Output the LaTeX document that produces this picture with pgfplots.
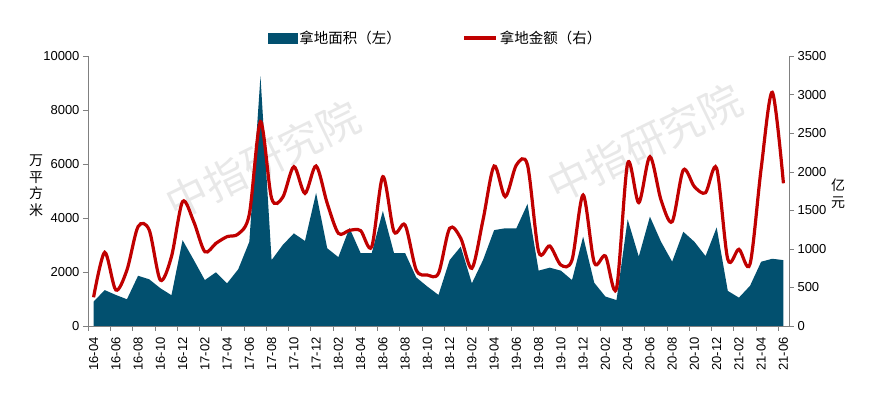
\documentclass[border=0pt]{standalone}
\usepackage{pgfplots}
\pgfplotsset{compat=1.18}
\usepackage{pgfplotstable}
\usepackage{fontspec}
\setmainfont{Liberation Sans}
\newfontfamily\cjk{Noto Sans CJK SC}
\definecolor{areablue}{HTML}{02506F}
\definecolor{linered}{HTML}{C00000}
\definecolor{axgray}{HTML}{808080}
\definecolor{wm}{HTML}{E8E8E8}

\pgfplotstableread{
i v
0 900
1 1330
2 1150
3 990
4 1860
5 1730
6 1400
7 1140
8 3180
9 2450
10 1700
11 1990
12 1580
13 2100
14 3120
15 9250
16 2440
17 3000
18 3430
19 3150
20 4930
21 2880
22 2550
23 3630
24 2700
25 2700
26 4260
27 2700
28 2700
29 1800
30 1460
31 1150
32 2440
33 2940
34 1580
35 2440
36 3550
37 3620
38 3620
39 4520
40 2050
41 2160
42 2050
43 1700
44 3310
45 1600
46 1090
47 960
48 3950
49 2570
50 4050
51 3120
52 2380
53 3490
54 3120
55 2590
56 3650
57 1300
58 1050
59 1490
60 2380
61 2490
62 2440
}\areadata

\pgfplotstableread{
i v
0 372
1 955
2 467
3 726
4 1288
5 1244
6 596
7 899
8 1612
9 1353
10 963
11 1072
12 1158
13 1193
14 1450
15 2649
16 1655
17 1668
18 2065
19 1720
20 2074
21 1590
22 1202
23 1240
24 1236
25 1028
26 1936
27 1223
28 1309
29 726
30 661
31 683
32 1266
33 1137
34 748
35 1374
36 2074
37 1676
38 2087
39 2087
40 963
41 1037
42 791
43 856
44 1698
45 821
46 907
47 488
48 2109
49 1599
50 2195
51 1633
52 1353
53 2022
54 1806
55 1728
56 2044
57 864
58 994
59 804
60 2044
61 3029
62 1850
}\linedata

\pgfplotsset{
  base/.style={
    scale only axis, width=701pt, height=270pt,
    at={(88pt,67pt)}, anchor=south west,
    xmin=-0.5, xmax=62.5,
    axis line style={axgray},
    tick style={axgray},
    tick align=outside,
    major tick length=5pt,
    minor tick length=5pt,
    tick label style={font=\fontsize{13}{15}\selectfont, text=black},
    scaled y ticks=false,
    /pgf/number format/assume math mode=true,
    /pgf/number format/1000 sep={},
  }
}

\begin{document}
\begin{tikzpicture}
\useasboundingbox (0pt,0pt) rectangle (871pt,393pt);
\node[rotate=26, text=wm, font=\cjk\fontsize{42}{44}\selectfont] at (263pt,233pt) {中指研究院};
\node[rotate=26, text=wm, font=\cjk\fontsize{42}{44}\selectfont] at (645pt,250pt) {中指研究院};

\begin{axis}[base,
  axis y line*=left, axis x line*=bottom,
  ymin=0, ymax=10000,
  ytick={0,2000,...,10000},
  xtick={0,2,...,62},
  xticklabels={16-04,16-06,16-08,16-10,16-12,17-02,17-04,17-06,17-08,17-10,17-12,18-02,18-04,18-06,18-08,18-10,18-12,19-02,19-04,19-06,19-08,19-10,19-12,20-02,20-04,20-06,20-08,20-10,20-12,21-02,21-04,21-06},
  major x tick style={draw=none},
  minor xtick={-0.5,1.5,...,61.5},
  x tick label style={rotate=90, anchor=east, yshift=0pt, xshift=-3pt},
  ylabel={\cjk 万\\\cjk 平\\\cjk 方\\\cjk 米},
  ylabel style={rotate=-90, align=center, font=\fontsize{14}{16.5}\selectfont, at={(axis description cs:-0.074,0.52)}, anchor=center},
]
\addplot[fill=areablue, draw=none] table[x=i,y=v] {\areadata} \closedcycle;
\end{axis}

\begin{axis}[base,
  axis y line*=right, axis x line=none,
  ymin=0, ymax=3500,
  ytick={0,500,...,3500},
  ylabel={\cjk 亿\\\cjk 元},
  ylabel style={rotate=-90, align=center, font=\fontsize{14}{16.5}\selectfont, at={(axis description cs:1.07,0.49)}, anchor=center},
  legend style={at={(axis description cs:0.496,1.067)}, anchor=center, draw=none, fill=none,
    legend columns=2, font=\cjk\fontsize{14.5}{16}\selectfont,
    /tikz/every even column/.append style={column sep=60pt}},
]
\addlegendimage{legend image code/.code={\fill[areablue] (0pt,-5pt) rectangle (29pt,5pt);}}
\addlegendentry{拿地面积（左）}
\addplot[linered, line width=3.2pt, smooth, tension=0.5,
  legend image code/.code={\draw[linered, line width=3.2pt] (0pt,0pt) -- (32pt,0pt);}]
  table[x=i,y=v] {\linedata};
\addlegendentry{拿地金额（右）}
\end{axis}
\end{tikzpicture}
\end{document}
